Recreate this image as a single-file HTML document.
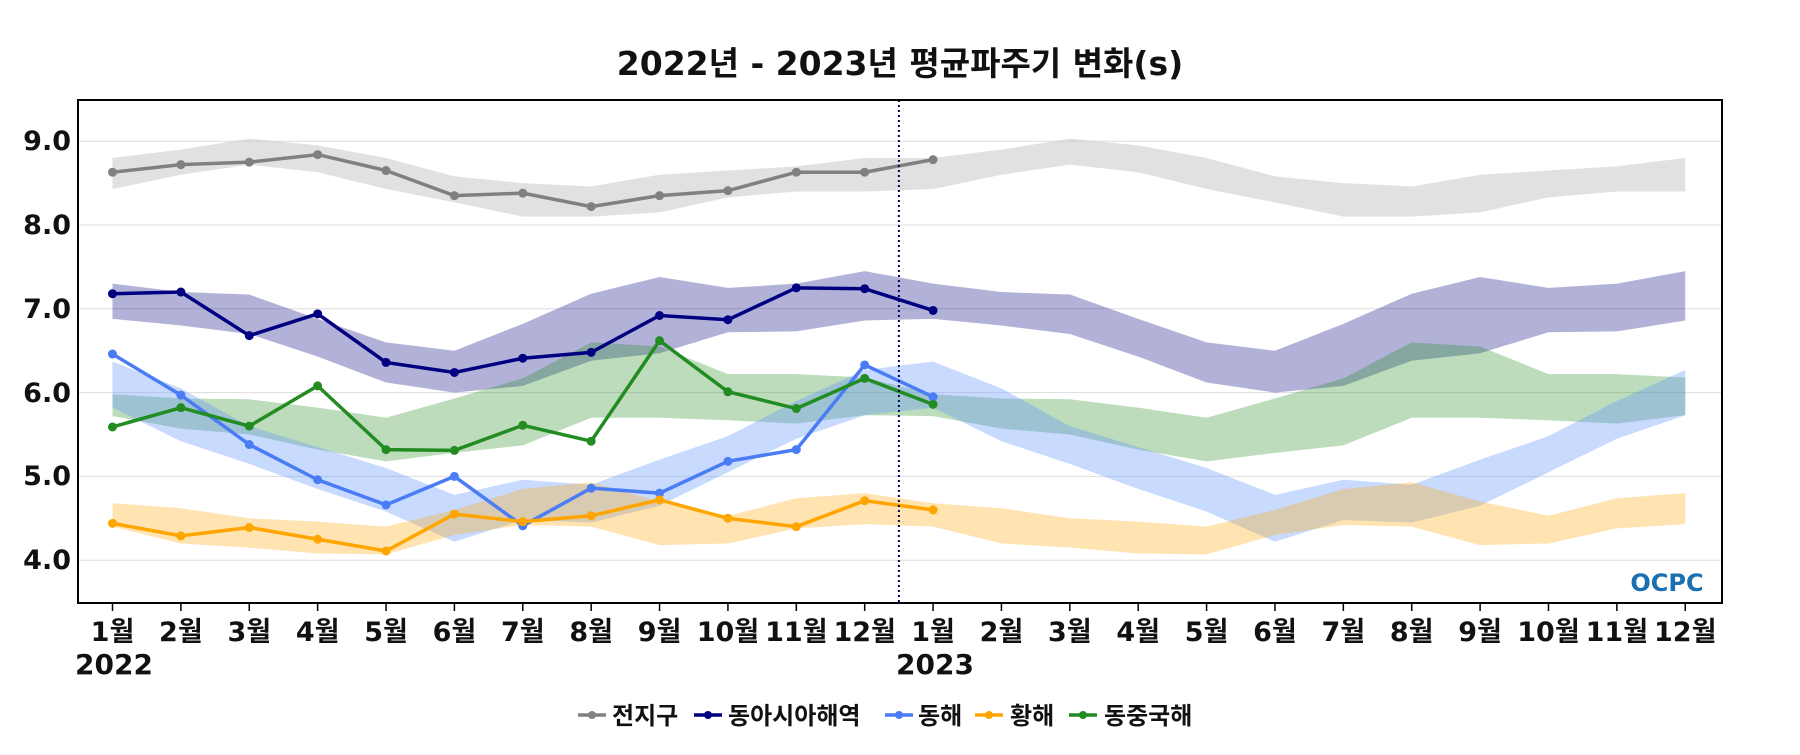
<!DOCTYPE html>
<html><head><meta charset="utf-8"><style>
html,body{margin:0;padding:0;background:#fff;}
svg text{font-family:"DejaVu Sans","Noto Sans CJK KR","NanumGothic",sans-serif;font-weight:bold;fill:#111;}
</style></head><body>
<svg id="c" width="1800" height="750" xmlns="http://www.w3.org/2000/svg">
<text x="900" y="75" font-size="33" text-anchor="middle">2022년 - 2023년 평균파주기 변화(s)</text>
<g id="grid" stroke="#ddd" stroke-width="1"></g>
<g id="bands"></g><g id="lines"></g>
<line x1="898.9" x2="898.9" y1="100" y2="603" stroke="#000060" stroke-width="2" stroke-dasharray="2,3"/>
<rect x="78" y="100" width="1644" height="503" fill="none" stroke="#000" stroke-width="2"/>
<text x="1667" y="591" font-size="24" style="fill:#1a6fb0" text-anchor="middle">OCPC</text>
<g font-size="27" text-anchor="end">
<text x="71" y="150">9.0</text><text x="71" y="234">8.0</text><text x="71" y="318">7.0</text>
<text x="71" y="402">6.0</text><text x="71" y="485">5.0</text><text x="71" y="569">4.0</text>
</g>
<g id="ticks" stroke="#000" stroke-width="1.5"></g>
<g id="mlab" font-size="27" text-anchor="middle"></g>
<g font-size="28" text-anchor="middle">
<text x="114" y="674">2022</text><text x="935" y="674">2023</text>
</g>
<g font-size="24">
<line x1="578" x2="606" y1="715" y2="715" stroke="#808080" stroke-width="3.5"/><circle cx="592" cy="715" r="4" fill="#808080"/><text x="612" y="724">전지구</text>
<line x1="694" x2="722" y1="715" y2="715" stroke="#000080" stroke-width="3.5"/><circle cx="708" cy="715" r="4" fill="#000080"/><text x="728" y="724">동아시아해역</text>
<line x1="885" x2="913" y1="715" y2="715" stroke="#4a7cf5" stroke-width="3.5"/><circle cx="899" cy="715" r="4" fill="#4a7cf5"/><text x="918" y="724">동해</text>
<line x1="975" x2="1003" y1="715" y2="715" stroke="#ffa500" stroke-width="3.5"/><circle cx="989" cy="715" r="4" fill="#ffa500"/><text x="1010" y="724">황해</text>
<line x1="1069" x2="1097" y1="715" y2="715" stroke="#228b22" stroke-width="3.5"/><circle cx="1083" cy="715" r="4" fill="#228b22"/><text x="1104" y="724">동중국해</text>
</g>
</svg>
<script>
const X=i=>112.5+68.38*i, Y=v=>141.2+(9-v)*83.8;
const S=[
{c:"#808080",f:"rgba(200,200,200,0.55)",l:[8.63,8.72,8.75,8.84,8.65,8.35,8.38,8.22,8.35,8.41,8.63,8.63,8.78],
 u:[8.8,8.9,9.03,8.95,8.8,8.58,8.5,8.46,8.6,8.65,8.7,8.8],d:[8.43,8.6,8.72,8.63,8.43,8.27,8.1,8.1,8.15,8.33,8.4,8.4]},
{c:"#000080",f:"rgba(0,0,128,0.3)",l:[7.18,7.2,6.68,6.94,6.36,6.24,6.41,6.48,6.92,6.87,7.25,7.24,6.98],
 u:[7.3,7.2,7.17,6.88,6.6,6.5,6.82,7.18,7.38,7.25,7.3,7.45],d:[6.88,6.8,6.7,6.43,6.12,6.0,6.08,6.38,6.47,6.72,6.73,6.86]},
{c:"#228b22",f:"rgba(34,139,34,0.3)",l:[5.59,5.82,5.6,6.08,5.32,5.31,5.61,5.42,6.62,6.01,5.81,6.17,5.86],
 u:[5.98,5.93,5.92,5.82,5.7,5.93,6.17,6.6,6.55,6.22,6.22,6.18],d:[5.72,5.57,5.5,5.32,5.18,5.28,5.37,5.7,5.7,5.67,5.63,5.73]},
{c:"#4a7cf5",f:"rgba(100,150,255,0.35)",l:[6.46,5.97,5.38,4.96,4.66,5.0,4.41,4.86,4.8,5.18,5.32,6.33,5.95],
 u:[6.37,6.05,5.6,5.35,5.1,4.78,4.96,4.9,5.2,5.48,5.9,6.27],d:[5.82,5.42,5.15,4.85,4.58,4.22,4.48,4.45,4.65,5.05,5.45,5.73]},
{c:"#ffa500",f:"rgba(255,165,0,0.3)",l:[4.44,4.29,4.39,4.25,4.11,4.55,4.46,4.53,4.72,4.5,4.4,4.71,4.6],
 u:[4.68,4.62,4.5,4.46,4.4,4.6,4.85,4.93,4.7,4.53,4.74,4.8],d:[4.4,4.2,4.15,4.08,4.07,4.3,4.42,4.4,4.18,4.2,4.38,4.43]}];
let b="",ln="",g="";
for(let v=4;v<=9;v++)g+=`<line x1="78" x2="1722" y1="${Y(v)}" y2="${Y(v)}"/>`;
document.getElementById("grid").innerHTML=g;
for(const s of S){const u=s.u.concat(s.u),d=s.d.concat(s.d);let p="M";
for(let i=0;i<24;i++)p+=X(i)+","+Y(u[i])+" L";
for(let i=23;i>=0;i--)p+=X(i)+","+Y(d[i])+(i?" L":" Z");
b+=`<path d="${p}" fill="${s.f}"/>`;}
for(const s of [S[0],S[1],S[3],S[4],S[2]]){let pts=s.l.map((v,i)=>X(i)+","+Y(v)).join(" ");
ln+=`<polyline points="${pts}" fill="none" stroke="${s.c}" stroke-width="3.5"/>`;
s.l.forEach((v,i)=>ln+=`<circle cx="${X(i)}" cy="${Y(v)}" r="4.5" fill="${s.c}"/>`);}
document.getElementById("bands").innerHTML=b;document.getElementById("lines").innerHTML=ln;
let t="";for(let i=0;i<24;i++)t+=`<line x1="${X(i)}" x2="${X(i)}" y1="603" y2="611"/>`;
document.getElementById("ticks").innerHTML=t;
</script>
<script>
(function(){const X=i=>112.5+68.38*i;const m=document.getElementById("mlab");let h="";
const names=["1월","2월","3월","4월","5월","6월","7월","8월","9월","10월","11월","12월"];
for(let i=0;i<24;i++)h+=`<text x="${X(i)}" y="641">${names[i%12]}</text>`;m.innerHTML=h;})();
</script>
</body></html>
